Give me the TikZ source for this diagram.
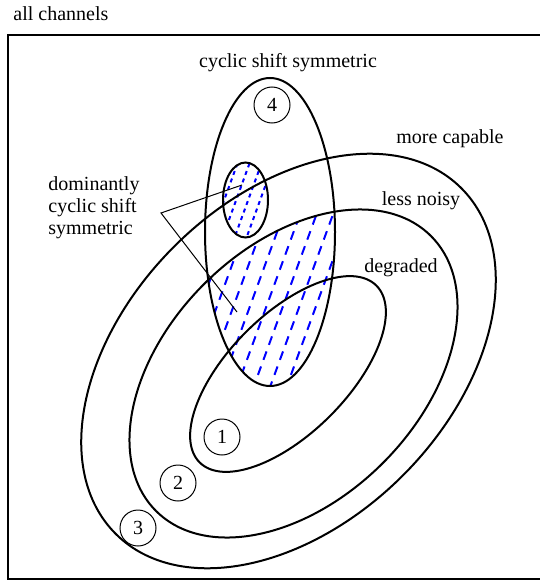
\documentclass[tikz,border=0pt]{standalone}
\usepackage{fontspec}
\setmainfont{Liberation Serif}
\begin{document}
\begin{tikzpicture}[x=0.5pt,y=-0.5pt,
  font=\fontsize{10}{11}\selectfont,
  curve/.style={line width=1pt},
  thinline/.style={line width=0.5pt},
  num/.style={circle, draw, line width=0.5pt, minimum size=18pt, inner sep=0pt},
  lab/.style={inner sep=0pt},
  hatchbig/.style={blue, line width=1pt, dash pattern=on 4.5pt off 3.5pt},
  hatchsmall/.style={blue, line width=1pt, dash pattern=on 2pt off 2pt}]
\useasboundingbox (0,0) rectangle (540,583);
% frame
\draw[line width=1.4pt] (550,35) -- (8,35) -- (8,579) -- (550,579);
\node[lab, anchor=west] (all) at (13,14) {all channels};
% hatching: cyclic ellipse intersect less noisy
\begin{scope}
  \clip (270,232) ellipse [x radius=32.5pt, y radius=77pt];
  \clip[rotate around={45:(293.5,373.5)}] (293.5,373.5) ellipse [x radius=97.2pt, y radius=63.25pt];
  \foreach \k in {0,...,22} {
    \draw[hatchbig] (60+16.5*\k,420) -- (60+16.5*\k+124,80);
  }
\end{scope}
\begin{scope}
  \clip (245.5,200) ellipse [x radius=11.25pt, y radius=18.75pt];
  \foreach \k in {0,...,12} {
    \draw[hatchsmall] (170+12*\k,250) -- (170+12*\k+40,140);
  }
\end{scope}
% tilted ellipses
\draw[curve, rotate around={45:(288,374)}] (288,374) ellipse [x radius=62.5pt, y radius=29.7pt];
\draw[curve, rotate around={45:(293.5,373.5)}] (293.5,373.5) ellipse [x radius=97.2pt, y radius=63.25pt];
\draw[curve, rotate around={45:(288.5,361)}] (288.5,361) ellipse [x radius=122.2pt, y radius=80.9pt];
% cyclic shift symmetric ellipses
\draw[curve] (270,232) ellipse [x radius=32.5pt, y radius=77pt];
\draw[curve] (245.5,200) ellipse [x radius=11.25pt, y radius=18.75pt];
% labels
\node[lab] (cyc) at (288,63) {cyclic shift symmetric};
\node[lab] (mc) at (450,139) {more capable};
\node[lab] (ln) at (421,201) {less noisy};
\node[lab] (dg) at (401,268) {degraded};
\node[lab, anchor=north west, align=left] (dom) at (48,176) {dominantly\\cyclic shift\\symmetric};
% leader lines
\coordinate (ldr) at (161,213);
\coordinate (pa) at (242,185);
\coordinate (pb) at (237,312);
\draw[thinline] (pa) -- (ldr) -- (pb);
% numbered circles
\node[num] (n4) at (272,105) {4};
\node[num] (n1) at (222,437) {1};
\node[num] (n2) at (178,483) {2};
\node[num] (n3) at (138,528) {3};
\end{tikzpicture}
\end{document}
